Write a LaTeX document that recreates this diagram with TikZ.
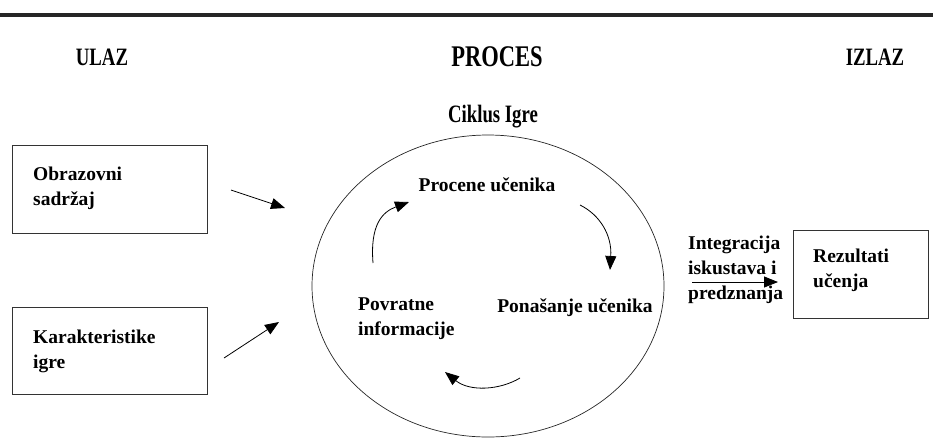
\documentclass[tikz,border=0pt]{standalone}
\usepackage{fontspec}
\setmainfont{Liberation Serif}
\newfontfamily\condf[FakeStretch=0.75]{Liberation Serif}
\usetikzlibrary{arrows.meta,shapes.geometric}
\begin{document}
\begin{tikzpicture}[x=1pt,y=-1pt,
  txt/.style={font=\fontsize{19.5}{25}\selectfont\bfseries, align=left, inner sep=0pt},
  hdr/.style={font=\condf\bfseries\fontsize{25}{28}\selectfont, inner sep=0pt},
  box/.style={draw=black!80, line width=1.4pt, inner sep=0pt, anchor=north west},
  arr/.style={-{Triangle[length=14pt,width=11pt]}, line width=0.8pt}]
\useasboundingbox (0,0) rectangle (933,445);
\draw[line width=4pt, black!85] (0,15) -- (933,15);
% headers
\node[hdr] (ulaz) at (102,57) {ULAZ};
\node[hdr, font=\condf\bfseries\fontsize{30}{32}\selectfont] (proces) at (497,57) {PROCES};
\node[hdr] (izlaz) at (875,57) {IZLAZ};
\node[hdr] (ciklus) at (493,117) {Ciklus Igre};
% boxes
\node[box, minimum width=195pt, minimum height=88pt] (b1) at (12,145) {};
\node[box, minimum width=195pt, minimum height=87pt] (b2) at (12,307) {};
\node[box, minimum width=135pt, minimum height=88pt] (b3) at (793,230) {};
\node[txt, anchor=west] (t1) at (33,188) {Obrazovni\\sadržaj};
\node[txt, anchor=west] (t2) at (33,351) {Karakteristike\\igre};
\node[txt, anchor=west] (t3) at (813,270) {Rezultati\\učenja};
% cycle
\node[draw=black!85, ellipse, line width=0.7pt, minimum width=352pt, minimum height=302pt] (cyc) at (488,286) {};
\node[txt] (pro) at (487,185) {Procene učenika};
\node[txt] (pon) at (575,308) {Ponašanje učenika};
\node[txt, anchor=west] (pov) at (358,319) {Povratne\\informacije};
\node[txt, anchor=west] (int) at (688,270) {Integracija\\iskustava i\\predznanja};
% input arrows
\coordinate (a1s) at (231,190); \coordinate (a1e) at (285,208);
\coordinate (a2s) at (224,358); \coordinate (a2e) at (279,322);
\draw[arr] (a1s) -- (a1e);
\draw[arr] (a2s) -- (a2e);
% cycle arrows
\coordinate (c1s) at (580,205); \coordinate (c1e) at (610,270);
\coordinate (c2s) at (520,378); \coordinate (c2e) at (445,372);
\coordinate (c3s) at (373,263); \coordinate (c3e) at (409,202);
\draw[arr] (c1s) .. controls (600,215) and (612,235) .. (c1e);
\draw[arr] (c2s) .. controls (500,390) and (470,392) .. (c2e);
\draw[arr] (c3s) .. controls (370,225) and (382,212) .. (c3e);
% output arrow
\coordinate (os) at (692,282); \coordinate (oe) at (778,282);
\draw[arr] (os) -- (oe);
\end{tikzpicture}
\end{document}
